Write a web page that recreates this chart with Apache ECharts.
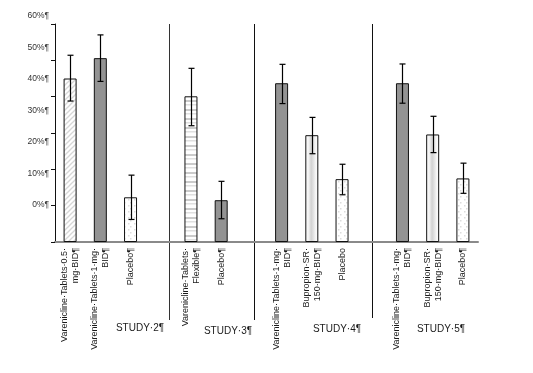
<!DOCTYPE html>
<html>
<head>
<meta charset="utf-8">
<script src="https://cdn.jsdelivr.net/npm/echarts@6/dist/echarts.min.js"></script>
<style>
html,body{margin:0;padding:0;background:#fff;}
#chart{width:533px;height:373px;}
</style>
</head>
<body>
<div id="chart"></div>
<script>
// ---- data ----
var categories = ['s2a','s2b','s2c','g1','s3a','s3b','g2','s4a','s4b','s4c','g3','s5a','s5b','s5c'];
var categoryLabels = [
  'Varenicline·Tablets·0.5·\nmg·BID¶',
  'Varenicline·Tablets·1·mg·\nBID¶',
  'Placebo¶',
  '',
  'Varenicline·Tablets·\nFlexible¶',
  'Placebo¶',
  '',
  'Varenicline·Tablets·1·mg·\nBID¶',
  'Bupropion·SR·\n150·mg·BID¶',
  'Placebo',
  '',
  'Varenicline·Tablets·1·mg·\nBID¶',
  'Bupropion·SR·\n150·mg·BID¶',
  'Placebo¶'
];
var values   = [45.0, 50.6, 12.3, null, 40.1, 11.5, null, 43.7, 29.4, 17.3, null, 43.7, 29.6, 17.5];
var errLow   = [38.8, 44.2,  6.2, null, 32.0,  6.4, null, 38.1, 24.3, 13.0, null, 38.2, 24.6, 13.4];
var errHigh  = [51.4, 57.0, 18.4, null, 47.8, 16.7, null, 48.9, 34.3, 21.4, null, 49.0, 34.6, 21.7];
var yTickLabels = ['0%¶','10%¶','20%¶','30%¶','40%¶','50%¶','60%¶'];
var studyLabels = ['STUDY·2¶','STUDY·3¶','STUDY·4¶','STUDY·5¶'];

// ---- styles ----
var fillKinds = ['diag','solid','dots',null,'hstripe','solid',null,'solid','band','dots',null,'solid','band','dots'];

function makeCanvas(w,h,draw){
  var c=document.createElement('canvas'); c.width=w; c.height=h;
  var g=c.getContext('2d'); g.fillStyle='#fff'; g.fillRect(0,0,w,h); draw(g); return c;
}
var diagPat = makeCanvas(5,5,function(g){
  g.strokeStyle='#d6d6d6'; g.lineWidth=1.3;
  g.beginPath(); g.moveTo(-1,6); g.lineTo(6,-1); g.stroke();
  g.beginPath(); g.moveTo(-4,4); g.lineTo(4,-4); g.stroke();
  g.beginPath(); g.moveTo(1,9); g.lineTo(9,1); g.stroke();
});
var hPat = makeCanvas(8,9,function(g){
  g.fillStyle='#cbcbcb'; g.fillRect(0,1,8,2); g.fillStyle='#e0e0e0'; g.fillRect(0,5,8,1.5);
});
var dotPat = makeCanvas(6,6,function(g){
  g.fillStyle='#dcdcdc'; g.fillRect(2,1,1.5,1.5); g.fillRect(4,4,1.5,1.5);
});
function fillFor(k){
  if(k==='solid') return '#939393';
  if(k==='diag') return {image:diagPat, repeat:'repeat'};
  if(k==='hstripe') return {image:hPat, repeat:'repeat'};
  if(k==='dots') return {image:dotPat, repeat:'repeat'};
  if(k==='band') return new echarts.graphic.LinearGradient(0,0,1,0,[
    {offset:0,color:'#ffffff'},{offset:0.25,color:'#f2f2f2'},{offset:0.45,color:'#d2d2d2'},
    {offset:0.6,color:'#e0e0e0'},{offset:0.8,color:'#f6f6f6'},{offset:1,color:'#ffffff'}]);
  return '#fff';
}

var barData = values.map(function(v,i){
  if(v===null) return null;
  return {value:v, itemStyle:{color:fillFor(fillKinds[i]), borderColor:'#111', borderWidth:1}};
});
var errData = values.map(function(v,i){ return v===null ? null : [i, errLow[i], errHigh[i]]; }).filter(function(d){return d;});

var FONT = '"Liberation Sans", Arial, sans-serif';
var chart = echarts.init(document.getElementById('chart'), null, {renderer:'canvas'});
chart.setOption({
  animation:false,
  backgroundColor:'#fff',
  grid:[
    {left:55, right:55, top:24, bottom:131},
    {left:55, right:55, top:15.7, bottom:168}
  ],
  xAxis:[
    {type:'category', gridIndex:0, data:categories,
     axisLine:{lineStyle:{color:'#8a8a8a', width:2}},
     axisTick:{show:false},
     axisLabel:{interval:0, rotate:90, margin:6, fontSize:9, lineHeight:11, color:'#1a1a1a', fontFamily:FONT,
       formatter:function(v,i){ return categoryLabels[i]; }}},
    {type:'category', gridIndex:1, data:categories, show:false}
  ],
  yAxis:[
    {type:'value', gridIndex:0, min:0, max:60, interval:10,
     axisLine:{show:true, lineStyle:{color:'#111', width:1}},
     axisTick:{show:true, length:4, lineStyle:{color:'#111'}},
     axisLabel:{show:false}, splitLine:{show:false}},
    {type:'value', gridIndex:1, min:0, max:60, interval:10,
     axisLine:{show:false}, axisTick:{show:false}, splitLine:{show:false},
     axisLabel:{show:true, margin:6, fontSize:8.5, color:'#333', fontFamily:FONT,
       formatter:function(v){ return yTickLabels[Math.round(v/10)]; }}}
  ],
  series:[
    {type:'bar', xAxisIndex:0, yAxisIndex:0, barWidth:13, data:barData, z:2},
    {type:'custom', xAxisIndex:0, yAxisIndex:0, data:errData, z:5,
     renderItem:function(params, api){
       var x = api.value(0);
       var lo = api.coord([x, api.value(1)]);
       var hi = api.coord([x, api.value(2)]);
       var cx = Math.round(lo[0])+0.5, w=3;
       var st = {stroke:'#000', lineWidth:1.2};
       return {type:'group', children:[
         {type:'line', shape:{x1:cx,y1:lo[1],x2:cx,y2:hi[1]}, style:st},
         {type:'line', shape:{x1:cx-w,y1:hi[1],x2:cx+w,y2:hi[1]}, style:st},
         {type:'line', shape:{x1:cx-w,y1:lo[1],x2:cx+w,y2:lo[1]}, style:st}
       ]};
     }}
  ],
  graphic:[
    {type:'line', shape:{x1:169.5,y1:24,x2:169.5,y2:320}, style:{stroke:'#333', lineWidth:1}},
    {type:'line', shape:{x1:254.5,y1:24,x2:254.5,y2:320}, style:{stroke:'#111', lineWidth:1}},
    {type:'line', shape:{x1:372.5,y1:24,x2:372.5,y2:318}, style:{stroke:'#111', lineWidth:1}},
    {type:'text', x:140, y:328, style:{text:studyLabels[0], font:'10px '+FONT, fill:'#1a1a1a', textAlign:'center', textVerticalAlign:'middle'}},
    {type:'text', x:228, y:331, style:{text:studyLabels[1], font:'10px '+FONT, fill:'#1a1a1a', textAlign:'center', textVerticalAlign:'middle'}},
    {type:'text', x:337, y:329, style:{text:studyLabels[2], font:'10px '+FONT, fill:'#1a1a1a', textAlign:'center', textVerticalAlign:'middle'}},
    {type:'text', x:441, y:329, style:{text:studyLabels[3], font:'10px '+FONT, fill:'#1a1a1a', textAlign:'center', textVerticalAlign:'middle'}}
  ]
});
</script>
</body>
</html>
